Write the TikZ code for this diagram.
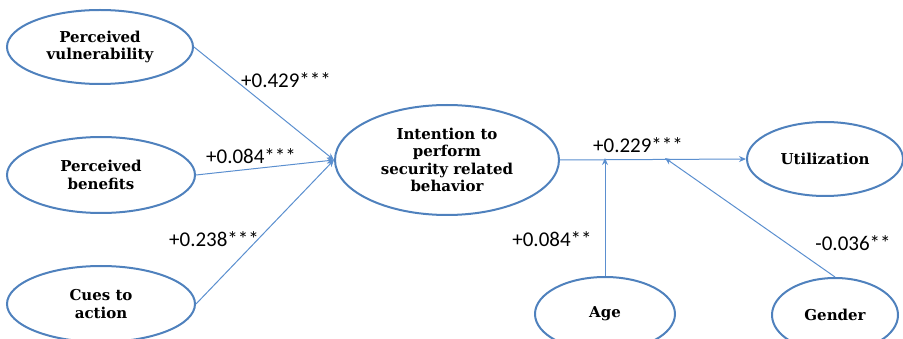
\documentclass[tikz,border=0pt]{standalone}
\usepackage{fontspec}
\usetikzlibrary{shapes.geometric,arrows.meta}
\newfontfamily\nodefont{DejaVu Serif}
\newfontfamily\labfont{Carlito}
\definecolor{ellblue}{HTML}{4F81BD}
\definecolor{lineblue}{HTML}{5B8FCF}
\tikzset{
  oval/.style={ellipse, draw=ellblue, line width=2pt, inner sep=0pt, align=center,
    font=\nodefont\bfseries\fontsize{15}{17.5}\selectfont, text=black},
  conn/.style={draw=lineblue, line width=1pt, -{Stealth[length=7pt,width=6pt]}},
  coef/.style={font=\labfont\fontsize{21}{23}\selectfont, text=black, inner sep=0pt}
}
\begin{document}
\begin{tikzpicture}[x=1pt,y=-1pt]
\useasboundingbox (0,0) rectangle (903,339);
\node[oval, minimum width=186pt, minimum height=74pt] (pv) at (100,47) {Perceived\\vulnerability};
\node[oval, minimum width=188pt, minimum height=76pt] (pb) at (101,175) {Perceived\\benefits};
\node[oval, minimum width=188pt, minimum height=76pt] (ca) at (101,304) {Cues to\\action};
\node[oval, minimum width=224pt, minimum height=110pt] (int) at (447,160) {Intention to\\perform\\security related\\behavior};
\node[oval, minimum width=156pt, minimum height=74pt] (util) at (825,159) {Utilization};
\node[oval, minimum width=140pt, minimum height=74pt] (age) at (605,314) {Age};
\node[oval, minimum width=126pt, minimum height=74pt] (gen) at (835,315) {Gender};
\coordinate (agehit) at (605,158);
\coordinate (genhit) at (665,158);
\draw[conn] (pv.east) -- (int.west);
\draw[conn] (pb.east) -- (int.west);
\draw[conn] (ca.east) -- (int.west);
\draw[conn] (int.east) -- (util.west);
\draw[conn] (age.north) -- (agehit);
\draw[conn] (gen.north) -- (genhit);
\node[coef] (l1) at (286,80) {+0.429***};
\node[coef] (l2) at (251,156) {+0.084***};
\node[coef] (l3) at (214,239) {+0.238***};
\node[coef] (l4) at (638,145) {+0.229***};
\node[coef] (l5) at (552,239) {+0.084**};
\node[coef] (l6) at (853,243) {-0.036**};
\end{tikzpicture}
\end{document}
